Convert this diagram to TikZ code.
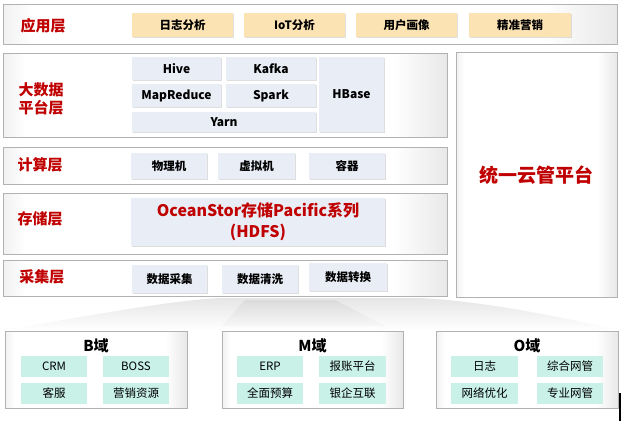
\documentclass[tikz,border=0pt]{standalone}
\usepackage{fontspec}
\setmainfont{Noto Sans CJK SC}
\usetikzlibrary{shadows}
\definecolor{lred}{HTML}{C00000}
\definecolor{appc}{HTML}{FCE3B4}
\definecolor{techc}{HTML}{E9EEF6}
\definecolor{domc}{HTML}{C9F1E7}
\pgfdeclarehorizontalshading{panelshade}{100bp}{color(0bp)=(gray!11); color(25bp)=(gray!11); color(27.5bp)=(white); color(69bp)=(white); color(75bp)=(gray!18); color(100bp)=(gray!18)}
\tikzset{
  panel/.style={draw=gray!60, line width=0.6pt, shading=panelshade, inner sep=0pt},
  tshadow/.style={drop shadow={shadow xshift=0.8pt, shadow yshift=-1.3pt, fill=gray!50, opacity=0.5}},
  appitem/.style={fill=appc, tshadow, inner sep=0pt, font=\bfseries\fontsize{11.5}{13}\selectfont},
  techitem/.style={fill=techc, tshadow, inner sep=0pt, font=\bfseries\fontsize{12}{13}\selectfont},
  domitem/.style={fill=domc, inner sep=0pt, font=\fontsize{11.5}{13}\selectfont, minimum height=21pt},
  lab/.style={text=lred, font=\bfseries\fontsize{15}{18}\selectfont, align=center, inner sep=0pt},
  domtitle/.style={font=\bfseries\fontsize{15}{16}\selectfont, inner sep=0pt}
}
\begin{document}
\begin{tikzpicture}[x=1pt,y=-1pt]
\useasboundingbox[fill=white] (0,0) rectangle (632,423);

% fan between layers and domains
\shade[top color=gray!20, bottom color=white] (5,330) .. controls (110,312) and (175,300) .. (222,298) -- (418,298) .. controls (470,300) and (545,313) .. (618,330) -- cycle;
\shade[top color=gray!28, bottom color=gray!6] (245,300) -- (335,300) -- (385,326) -- (222,326) -- cycle;

% application layer
\node[panel, minimum width=614pt, minimum height=40pt] (apppanel) at (310,24) {};
\node[lab] (applab) at (43,26) {应用层};
\node[appitem, minimum width=101pt, minimum height=24pt] (a1) at (182.5,25) {日志分析};
\node[appitem, minimum width=101pt, minimum height=24pt] (a2) at (294.5,25) {IoT分析};
\node[appitem, minimum width=101pt, minimum height=24pt] (a3) at (406.5,25) {用户画像};
\node[appitem, minimum width=102pt, minimum height=24pt] (a4) at (520,25) {精准营销};

% big data layer
\node[panel, minimum width=444pt, minimum height=84pt] (bdpanel) at (225,95) {};
\node[lab] (bdlab) at (41,99) {大数据\\平台层};
\node[techitem, minimum width=89pt, minimum height=23pt] (hive) at (176.5,68.5) {Hive};
\node[techitem, minimum width=90pt, minimum height=23pt] (kafka) at (271,68.5) {Kafka};
\node[techitem, minimum width=89pt, minimum height=23pt] (mr) at (176.5,95.5) {MapReduce};
\node[techitem, minimum width=90pt, minimum height=23pt] (spark) at (271,95.5) {Spark};
\node[techitem, minimum width=184pt, minimum height=20pt] (yarn) at (224,122) {Yarn};
\node[techitem, minimum width=65pt, minimum height=75pt] (hbase) at (351.5,94.5) {HBase};

% cloud platform
\node[panel, minimum width=161pt, minimum height=245pt] (cloud) at (536.5,174.5) {};
\node[text=lred, font=\bfseries\fontsize{19}{22}\selectfont, inner sep=0pt] (cloudlab) at (536,175) {统一云管平台};

% compute layer
\node[panel, minimum width=444pt, minimum height=37pt] (cppanel) at (225,165.5) {};
\node[lab] (cplab) at (40,165) {计算层};
\node[techitem, minimum width=76pt, minimum height=26pt, font=\bfseries\fontsize{11.5}{13}\selectfont] (c1) at (169,166) {物理机};
\node[techitem, minimum width=77pt, minimum height=26pt, font=\bfseries\fontsize{11.5}{13}\selectfont] (c2) at (256.5,166) {虚拟机};
\node[techitem, minimum width=76pt, minimum height=26pt, font=\bfseries\fontsize{11.5}{13}\selectfont] (c3) at (347,166) {容器};

% storage layer
\node[panel, minimum width=444pt, minimum height=61pt] (stpanel) at (225,223.5) {};
\node[lab] (stlab) at (40,219) {存储层};
\node[techitem, minimum width=254pt, minimum height=48pt, text=lred, font=\bfseries\fontsize{16}{21}\selectfont, align=center] (ocean) at (258,222) {OceanStor存储Pacific系列\\(HDFS)};

% collection layer
\node[panel, minimum width=444pt, minimum height=36pt] (clpanel) at (225,278) {};
\node[lab] (cllab) at (42,277) {采集层};
\node[techitem, minimum width=75pt, minimum height=28pt, font=\bfseries\fontsize{11.5}{13}\selectfont] (d1) at (169.5,279) {数据采集};
\node[techitem, minimum width=76pt, minimum height=28pt, font=\bfseries\fontsize{11.5}{13}\selectfont] (d2) at (260,279) {数据清洗};
\node[techitem, minimum width=78pt, minimum height=28pt, font=\bfseries\fontsize{11.5}{13}\selectfont] (d3) at (348,277) {数据转换};

% domains
\node[panel, minimum width=182pt, minimum height=77pt] (bpanel) at (96,369.5) {};
\node[panel, minimum width=181pt, minimum height=77pt] (mpanel) at (312.5,369.5) {};
\node[panel, minimum width=182pt, minimum height=77pt] (opanel) at (527,369.5) {};
\node[domtitle] (bt) at (96,346) {B域};
\node[domtitle] (mt) at (312.5,346) {M域};
\node[domtitle] (ot) at (527,346) {O域};

\node[domitem, minimum width=66pt] (b1) at (54,366.5) {CRM};
\node[domitem, minimum width=66pt] (b2) at (136,366.5) {BOSS};
\node[domitem, minimum width=66pt] (b3) at (54,393) {客服};
\node[domitem, minimum width=66pt] (b4) at (136,393) {营销资源};

\node[domitem, minimum width=66pt] (m1) at (270,366.5) {ERP};
\node[domitem, minimum width=67pt] (m2) at (352.5,366.5) {报账平台};
\node[domitem, minimum width=66pt] (m3) at (270,393) {全面预算};
\node[domitem, minimum width=67pt] (m4) at (352.5,393) {银企互联};

\node[domitem, minimum width=67pt] (o1) at (484.5,366.5) {日志};
\node[domitem, minimum width=66pt] (o2) at (570,366.5) {综合网管};
\node[domitem, minimum width=67pt] (o3) at (484.5,393) {网络优化};
\node[domitem, minimum width=66pt] (o4) at (570,393) {专业网管};

% stray bar at bottom right
\coordinate (barT) at (620,393);
\coordinate (barB) at (620,421);
\draw[line width=2pt] (barT) -- (barB);
\end{tikzpicture}
\end{document}
